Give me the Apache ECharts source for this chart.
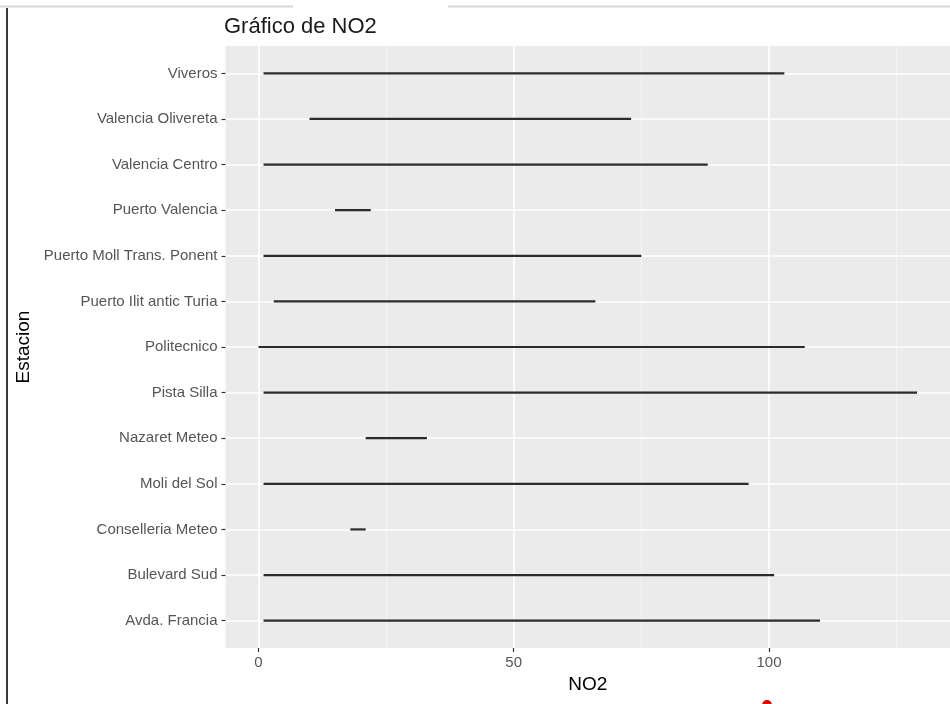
<!DOCTYPE html>
<html>
<head>
<meta charset="utf-8">
<script src="https://cdn.jsdelivr.net/npm/echarts@6/dist/echarts.min.js"></script>
<style>
html,body{margin:0;padding:0;background:#fff;}
#chart{width:950px;height:704px;}
</style>
</head>
<body>
<div id="chart"></div>
<script>
// Categories from bottom (index 0) to top
var categories = ['Avda. Francia','Bulevard Sud','Conselleria Meteo','Moli del Sol','Nazaret Meteo','Pista Silla','Politecnico','Puerto Ilit antic Turia','Puerto Moll Trans. Ponent','Puerto Valencia','Valencia Centro','Valencia Olivereta','Viveros'];
var minValues = [1, 1, 18, 1, 21, 1, 0, 3, 1, 15, 1, 10, 1];
var maxValues = [110, 101, 21, 96, 33, 129, 107, 66, 75, 22, 88, 73, 103];
var xTicks = [0, 50, 100];
var xMinorTicks = [25, 75, 125];
var titleText = 'Gráfico de NO2';
var xTitle = 'NO2';
var yTitle = 'Estacion';

var segData = categories.map(function (c, i) { return [minValues[i], maxValues[i], i]; });
var yTicks = categories.map(function (c, i) { return i; });

var FONT = '"Liberation Sans", Arial, sans-serif';
var chart = echarts.init(document.getElementById('chart'), null, {renderer: 'canvas'});
chart.setOption({
  animation: false,
  backgroundColor: '#ffffff',
  title: {
    text: titleText, left: 224, top: 16, padding: 0,
    textStyle: {fontFamily: FONT, fontSize: 22, fontWeight: 'normal', color: '#1a1a1a'}
  },
  grid: {
    left: 225.5, right: 0, top: 46, bottom: 56,
    show: true, backgroundColor: '#EBEBEB', borderWidth: 0, containLabel: false
  },
  xAxis: [{
    type: 'value', min: -6.45, max: 135.45, position: 'bottom',
    name: xTitle, nameLocation: 'middle', nameGap: 23,
    nameTextStyle: {fontFamily: FONT, fontSize: 19, color: '#000'},
    axisLine: {show: false, onZero: false},
    axisTick: {show: true, length: 4, customValues: xTicks, lineStyle: {color: '#333', width: 1.2}},
    axisLabel: {show: true, customValues: xTicks, margin: 7, fontFamily: FONT, fontSize: 15, color: '#555'},
    splitLine: {show: true, lineStyle: {color: '#ffffff', width: 1.6}}
  }, {
    type: 'value', min: -6.45, max: 135.45, position: 'bottom',
    axisLine: {show: false, onZero: false},
    axisTick: {show: false, customValues: xMinorTicks},
    axisLabel: {show: false, customValues: xMinorTicks},
    splitLine: {show: true, lineStyle: {color: '#F6F6F6', width: 0.9}}
  }],
  yAxis: {
    type: 'value', min: -0.6, max: 12.6, position: 'left',
    name: yTitle, nameLocation: 'middle', nameGap: 185, nameRotate: 90,
    nameTextStyle: {fontFamily: FONT, fontSize: 19, color: '#000'},
    axisLine: {show: false, onZero: false},
    axisTick: {show: true, length: 4, customValues: yTicks, lineStyle: {color: '#333', width: 1.2}},
    axisLabel: {
      show: true, customValues: yTicks, margin: 8, fontFamily: FONT, fontSize: 15, color: '#555',
      formatter: function (v) { return categories[Math.round(v)]; }
    },
    splitLine: {show: true, lineStyle: {color: '#ffffff', width: 1.6}}
  },
  series: [{
    type: 'custom',
    xAxisIndex: 0,
    data: segData,
    encode: {x: [0, 1], y: 2},
    renderItem: function (params, api) {
      var p1 = api.coord([api.value(0), api.value(2)]);
      var p2 = api.coord([api.value(1), api.value(2)]);
      return {
        type: 'line',
        shape: {x1: p1[0], y1: p1[1], x2: p2[0], y2: p2[1]},
        style: {stroke: '#2b2b2b', lineWidth: 2.2, lineCap: 'butt'}
      };
    }
  }],
  graphic: [
    {type: 'line', shape: {x1: 0, y1: 6.5, x2: 293, y2: 6.5}, style: {stroke: '#d6d6d6', lineWidth: 2}, silent: true},
    {type: 'line', shape: {x1: 448, y1: 6.5, x2: 950, y2: 6.5}, style: {stroke: '#d6d6d6', lineWidth: 2}, silent: true},
    {type: 'line', shape: {x1: 7, y1: 8, x2: 7, y2: 704}, style: {stroke: '#3a3a3a', lineWidth: 2}, silent: true},
    {type: 'circle', shape: {cx: 767, cy: 705, r: 5}, style: {fill: '#e00000'}, silent: true}
  ]
});
</script>
</body>
</html>
